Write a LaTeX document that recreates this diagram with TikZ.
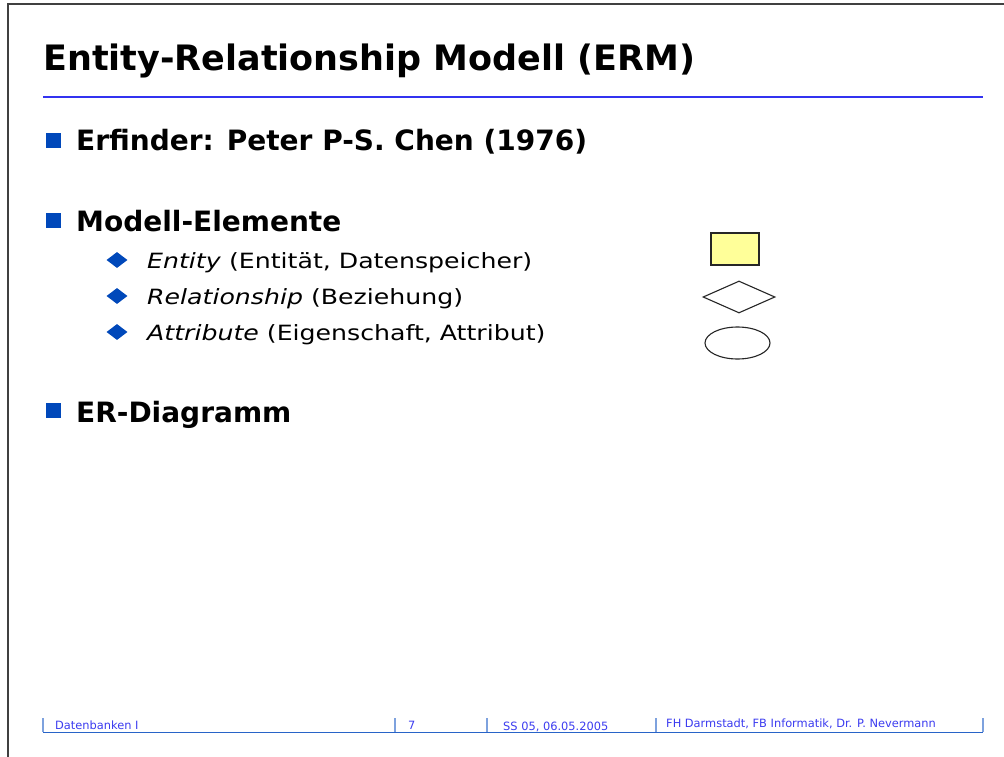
\documentclass[tikz,border=0pt]{standalone}
\usepackage{fontspec}
\setmainfont{DejaVu Sans}
\newfontfamily\widefont[FakeStretch=1.2]{DejaVu Sans}
\usetikzlibrary{shapes.geometric}
\definecolor{bulletblue}{RGB}{0,72,186}
\definecolor{ruleblue}{RGB}{51,51,240}
\definecolor{footblue}{RGB}{60,60,240}
\definecolor{footline}{RGB}{40,100,200}
\definecolor{entityfill}{RGB}{255,255,153}

\begin{document}
\begin{tikzpicture}[
  x=1pt,
  y=-1pt,
  line join=miter,
  frame/.style={draw=black!75, line width=1.2},
  topbullet/.style={fill=bulletblue, minimum size=15, inner sep=0},
  subbullet/.style={diamond, fill=bulletblue, minimum width=21, minimum height=16, inner sep=0},
  toptext/.style={anchor=base west, font=\bfseries\fontsize{28}{32}\selectfont, inner sep=0},
  subtext/.style={anchor=base west, font=\widefont\fontsize{21}{25}\selectfont, inner sep=0},
  symbol/.style={draw=black!85, line width=1.1},
  foottext/.style={anchor=base west, text=footblue, font=\fontsize{11.4}{13}\selectfont, inner sep=0},
  footrule/.style={draw=footline, line width=1},
  every node/.style={inner sep=0}
]
\path[use as bounding box] (0,0) rectangle (1004,757);
\fill[white] (0,0) rectangle (1004,757);

% Slide frame
\draw[frame] (1004,4) -- (8,4) -- (8,757);

% Title
\node[anchor=base west, font=\bfseries\fontsize{35}{40}\selectfont] (title) at (43,71)
  {Entity-Relationship Modell (ERM)};
\draw[ruleblue, line width=2] (43,97.5) -- (983,97.5);

% Top level bullets
\node[topbullet] (b1) at (53,141) {};
\node[toptext] (erfinder) at (76,150) {Erfinder: Peter P-S. Chen (1976)};
\node[topbullet] (b2) at (53,220.5) {};
\node[toptext] (elemente) at (76,231) {Modell-Elemente};
\node[topbullet] (b3) at (53,410.5) {};
\node[toptext] (erdiagramm) at (76,422) {ER-Diagramm};

% Second level bullets
\node[subbullet] (d1) at (117,260) {};
\node[subtext] (entity) at (147,268) {\textit{Entity} (Entität, Datenspeicher)};
\node[subbullet] (d2) at (117,296) {};
\node[subtext] (relship) at (147,304) {\textit{Relationship} (Beziehung)};
\node[subbullet] (d3) at (117,332) {};
\node[subtext] (attribute) at (147,340) {\textit{Attribute} (Eigenschaft, Attribut)};

% Symbols
\node[symbol, fill=entityfill, minimum width=48, minimum height=32] (esym) at (735,249) {};
\node[symbol, diamond, minimum width=72, minimum height=32, aspect=2.25] (rsym) at (739,297) {};
\node[symbol, ellipse, minimum width=65, minimum height=32] (asym) at (737.5,343) {};

% Footer
\draw[footrule] (43,732) -- (983,732);
\foreach \tx in {43,395,487,656,983}
  \draw[draw=footline!60, line width=1.2] (\tx,718) -- (\tx,732);
\node[foottext] (lecture) at (55,729) {Datenbanken I};
\node[foottext] (page) at (408,729) {7};
\node[foottext] (date) at (503,730) {SS 05, 06.05.2005};
\node[foottext] (author) at (666,727) {FH Darmstadt, FB Informatik, Dr. P. Nevermann};

\end{tikzpicture}
\end{document}
